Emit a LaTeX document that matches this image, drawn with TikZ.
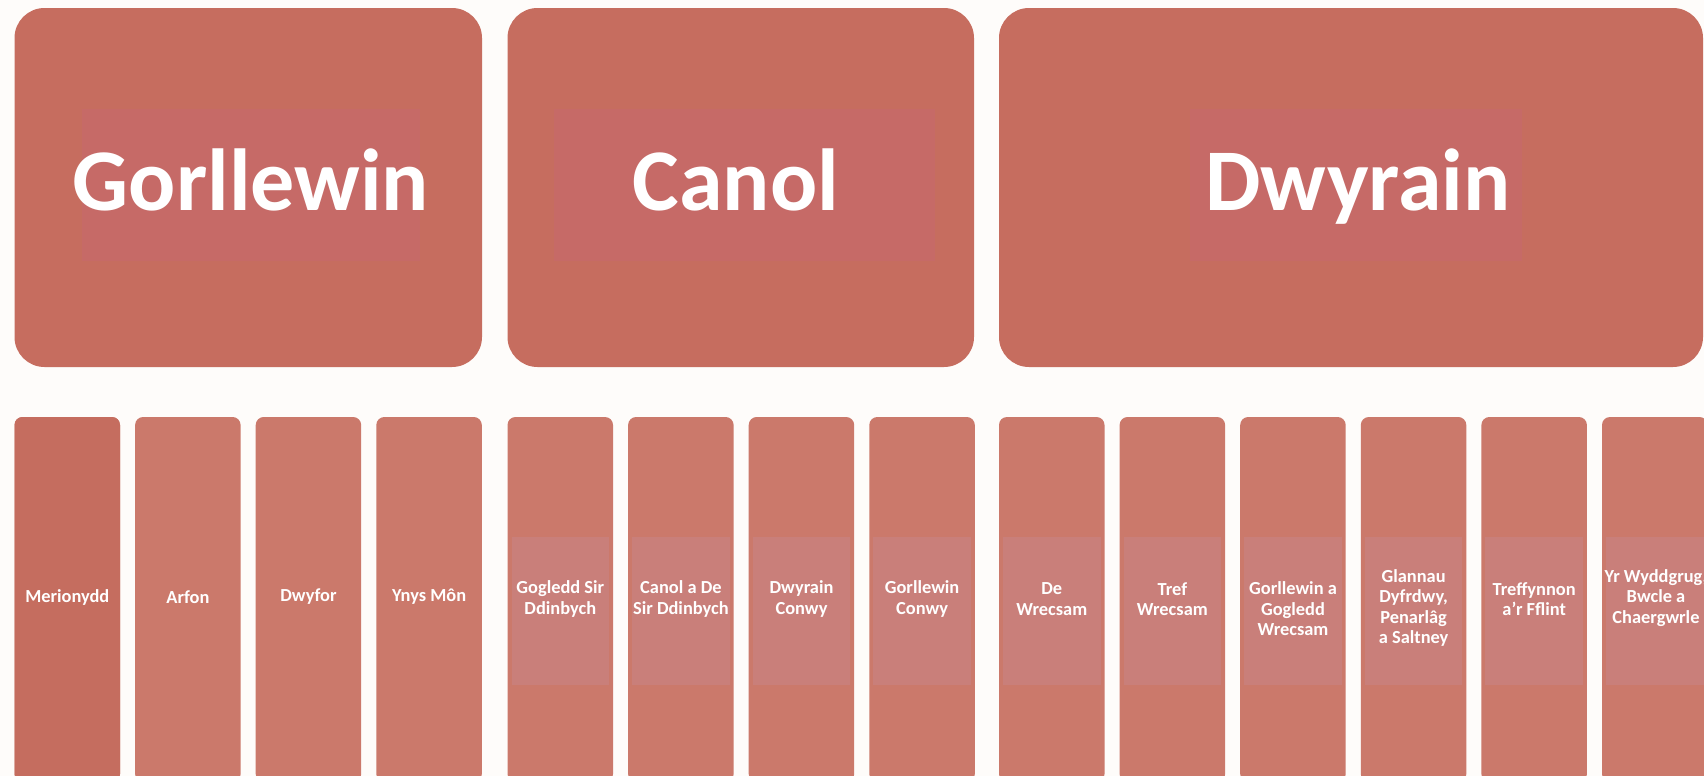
\documentclass[tikz,border=0pt]{standalone}
\usepackage{fontspec}
\setmainfont{Carlito}
\definecolor{bgc}{HTML}{FEFCFA}
\definecolor{topc}{HTML}{C66D5F}
\definecolor{topin}{HTML}{C66A67}
\definecolor{subc}{HTML}{CB796B}
\definecolor{subd}{HTML}{C56D5F}
\definecolor{band}{HTML}{C97F7A}
\begin{document}
\begin{tikzpicture}[x=0.5pt,y=-0.5pt,
  head/.style={text=white,font=\bfseries\fontsize{44}{50}\selectfont,anchor=base,inner sep=0pt},
  sub/.style={text=white,font=\bfseries\fontsize{9.2}{10.3}\selectfont,align=center,inner sep=0pt}]
\def\w{105.5}
\def\p{120.6}
\fill[bgc] (0,0) rectangle (1704,776);
\useasboundingbox (0,0) rectangle (1704,776);
\begin{scope}
\clip (0,0) rectangle (1704,776);
\fill[topc,rounded corners=15pt] (14.5,8) rectangle (482,367);
\fill[topc,rounded corners=15pt] (507.5,8) rectangle (974,367);
\fill[topc,rounded corners=15pt] (999,8) rectangle (1703,367);
\fill[topin] (82,109) rectangle (420,261);
\fill[topin] (554,109) rectangle (935,261);
\fill[topin] (1190,109) rectangle (1522,261);
\foreach \x/\n in {14.5/4,507.5/4,999/6}{
\foreach \i in {1,...,\n}{
\pgfmathsetmacro{\l}{\x+(\i-1)*\p}
\fill[subc,rounded corners=4pt] (\l,417) rectangle ({\l+\w},782);
\ifdim\x pt>100pt
\fill[band] ({\l+4},537) rectangle ({\l+\w-4},685);
\fi
}
}
\fill[subd,rounded corners=4pt] (14.5,417) rectangle ({14.5+\w},782);
\end{scope}
\node[head] (west) at (251,210) {Gorllewin};
\node[head] (mid) at (736,210) {Canol};
\node[head] (east) at (1358,210) {Dwyrain};
\node[sub] (mer) at (67.3,597) {Merionydd};
\node[sub] (arf) at (187.9,597) {Arfon};
\node[sub] (dwy) at (308.5,597) {Dwyfor};
\node[sub] (ynys) at (429.1,597) {Ynys Môn};
\node[sub] (gsd) at (560.3,599) {Gogledd Sir\\Ddinbych};
\node[sub] (cdsd) at (680.9,599) {Canol a De\\Sir Ddinbych};
\node[sub] (dcon) at (801.5,599) {Dwyrain\\Conwy};
\node[sub] (gcon) at (922.1,599) {Gorllewin\\Conwy};
\node[sub] (dwre) at (1051.8,599) {De\\Wrecsam};
\node[sub] (twre) at (1172.4,599) {Tref\\Wrecsam};
\node[sub] (ggwre) at (1293,609) {Gorllewin a\\Gogledd\\Wrecsam};
\node[sub] (glan) at (1413.6,608) {Glannau\\Dyfrdwy,\\Penarlâg\\a Saltney};
\node[sub] (tref) at (1534.2,599) {Treffynnon\\a’r Fflint};
\node[sub] (wydd) at (1656,598) {Yr Wyddgrug,\\Bwcle a\\Chaergwrle};
\end{tikzpicture}
\end{document}
